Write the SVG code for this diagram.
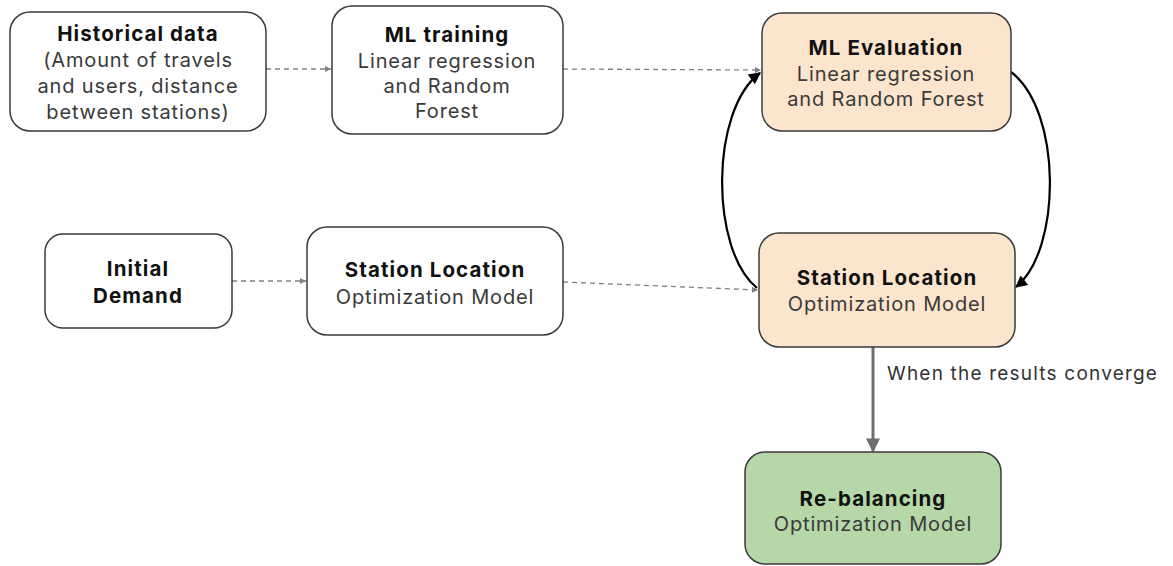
<svg xmlns="http://www.w3.org/2000/svg" width="1173" height="566" viewBox="0 0 1173 566">
  <style>
    .box { fill: #ffffff; stroke: #3a3a3a; stroke-width: 1.5; }
    .peach { fill: #fce5cd; }
    .green { fill: #b6d7a8; }
    .t { font-family: Inter, "Open Sans", "Liberation Sans", sans-serif; text-anchor: middle; }
    .b { font-weight: 700; fill: #111111; font-size: 20.5px; letter-spacing: 1.1px; }
    .r { font-weight: 400; fill: #3a3a3a; font-size: 20px; letter-spacing: 0.85px; }
    .dash { fill: none; stroke: #808080; stroke-width: 1.3; stroke-dasharray: 5 4; marker-end: url(#gArrow); }
    .loop { fill: none; stroke: #000000; stroke-width: 2.2; marker-end: url(#bArrow); }
    .down { fill: none; stroke: #6e6e6e; stroke-width: 3; marker-end: url(#dArrow); }
    .lbl { font-family: Inter, "Open Sans", "Liberation Sans", sans-serif; font-size: 19px; letter-spacing: 1.2px; fill: #333333; }
  </style>
  <defs>
    <marker id="gArrow" viewBox="0 0 10 10" refX="10" refY="5" markerWidth="6" markerHeight="6" markerUnits="userSpaceOnUse" orient="auto">
      <path d="M0,0 L10,5 L0,10 z" fill="#808080"/>
    </marker>
    <marker id="bArrow" viewBox="0 0 10 10" refX="9" refY="5" markerWidth="14" markerHeight="12" markerUnits="userSpaceOnUse" orient="auto">
      <path d="M0,0 L10,5 L0,10 z" fill="#000000"/>
    </marker>
    <marker id="dArrow" viewBox="0 0 10 10" refX="9" refY="5" markerWidth="16" markerHeight="14" markerUnits="userSpaceOnUse" orient="auto">
      <path d="M0,0 L10,5 L0,10 z" fill="#6e6e6e"/>
    </marker>
  </defs>

  <g id="connectors">
    <path class="dash" d="M266 69 L331 69"/>
    <path class="dash" d="M563 69 L761 70"/>
    <path class="dash" d="M232 281 L306 281"/>
    <path class="dash" d="M563 282 L758 290"/>
    <path class="loop" d="M757 288 C710 250 710 110 760 73"/>
    <path class="loop" d="M1011 72 C1062 110 1062 250 1016 287"/>
    <path class="down" d="M873 320 L873 451"/>
    <text class="lbl" x="887" y="380">When the results converge</text>
  </g>

  <g id="historical-data">
    <rect class="box" x="10" y="12" width="256" height="119" rx="20"/>
    <text class="t b" x="138" y="41">Historical data</text>
    <text class="t r" x="138" y="67">(Amount of travels</text>
    <text class="t r" x="138" y="93">and users, distance</text>
    <text class="t r" x="138" y="119">between stations)</text>
  </g>

  <g id="ml-training">
    <rect class="box" x="332" y="6" width="231" height="128" rx="20"/>
    <text class="t b" x="447" y="42">ML training</text>
    <text class="t r" x="447" y="68">Linear regression</text>
    <text class="t r" x="447" y="93">and Random</text>
    <text class="t r" x="447" y="118">Forest</text>
  </g>

  <g id="ml-evaluation">
    <rect class="box peach" x="762" y="13" width="249" height="118" rx="20"/>
    <text class="t b" x="886" y="55">ML Evaluation</text>
    <text class="t r" x="886" y="81">Linear regression</text>
    <text class="t r" x="886" y="106">and Random Forest</text>
  </g>

  <g id="initial-demand">
    <rect class="box" x="45" y="234" width="187" height="94" rx="18"/>
    <text class="t b" x="138" y="276">Initial</text>
    <text class="t b" x="138" y="303">Demand</text>
  </g>

  <g id="station-location-initial">
    <rect class="box" x="307" y="227" width="256" height="108" rx="20"/>
    <text class="t b" x="435" y="277">Station Location</text>
    <text class="t r" x="435" y="304">Optimization Model</text>
  </g>

  <g id="station-location-loop">
    <rect class="box peach" x="759" y="233" width="256" height="114" rx="20"/>
    <text class="t b" x="887" y="285">Station Location</text>
    <text class="t r" x="887" y="311">Optimization Model</text>
  </g>

  <g id="re-balancing">
    <rect class="box green" x="745" y="452" width="256" height="112" rx="20"/>
    <text class="t b" x="873" y="506">Re-balancing</text>
    <text class="t r" x="873" y="531">Optimization Model</text>
  </g>
</svg>
